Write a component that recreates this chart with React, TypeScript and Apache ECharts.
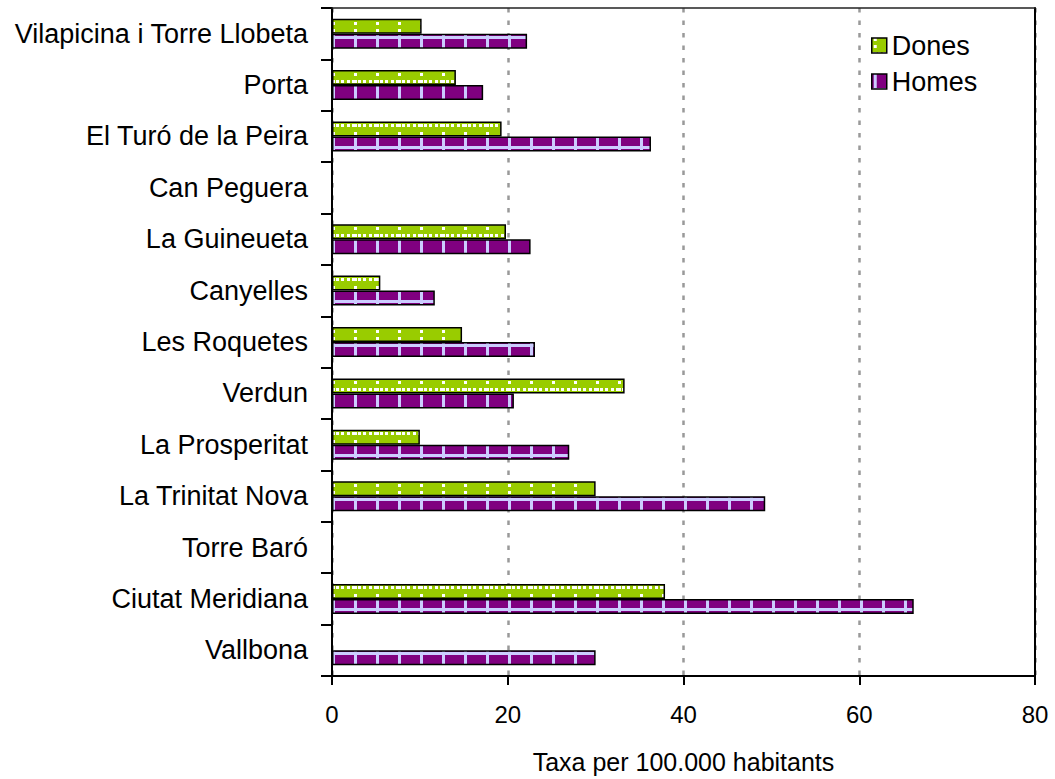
import React, { useEffect, useRef } from "react";
import * as echarts from "echarts";

const categories = [
  "Vilapicina i Torre Llobeta",
  "Porta",
  "El Turó de la Peira",
  "Can Peguera",
  "La Guineueta",
  "Canyelles",
  "Les Roquetes",
  "Verdun",
  "La Prosperitat",
  "La Trinitat Nova",
  "Torre Baró",
  "Ciutat Meridiana",
  "Vallbona",
];

const donesValues: (number | null)[] = [10.2, 14.1, 19.3, null, 19.8, 5.5, 14.8, 33.3, 10.0, 30.0, null, 37.9, null];
const homesValues: (number | null)[] = [22.2, 17.2, 36.3, null, 22.6, 11.7, 23.1, 20.7, 27.0, 49.3, null, 66.2, 30.0];

const xTicks = { min: 0, max: 80, interval: 20 };
const axisName = "Taxa per 100.000 habitants";
const seriesNames = ["Dones", "Homes"];

const FONT = "'Liberation Sans', Arial, sans-serif";

function makeTile(kind: "dones" | "homes"): HTMLCanvasElement {
  const c = document.createElement("canvas");
  c.width = 22;
  c.height = 22;
  const ctx = c.getContext("2d")!;
  if (kind === "homes") {
    ctx.fillStyle = "#800080";
    ctx.fillRect(0, 0, 22, 22);
    ctx.fillStyle = "#CCCCFF";
    ctx.fillRect(2, 0, 3, 22);
    ctx.fillRect(0, 14, 22, 3);
  } else {
    ctx.fillStyle = "#99CC00";
    ctx.fillRect(0, 0, 22, 22);
    ctx.fillStyle = "#FFFFFF";
    [0, 6, 11, 17].forEach((x) => ctx.fillRect(x, 14, 3, 3));
    [0, 7].forEach((y) => ctx.fillRect(2, y, 3, 3));
    ctx.fillRect(2, 14, 3, 3);
  }
  return c;
}

export default function App() {
  const ref = useRef<HTMLDivElement>(null);

  useEffect(() => {
    document.body.style.margin = "0";
    const chart = echarts.init(ref.current!, undefined, { renderer: "svg" });
    const donesPattern: any = { image: makeTile("dones"), repeat: "repeat", imageWidth: 22, imageHeight: 22 };
    const homesPattern: any = { image: makeTile("homes"), repeat: "repeat", imageWidth: 22, imageHeight: 22 };

    chart.setOption({
      animation: false,
      backgroundColor: "#ffffff",
      grid: { left: 332, right: 20, top: 8, bottom: 103, containLabel: false },
      legend: {
        orient: "vertical",
        left: 866,
        top: 27,
        itemWidth: 15,
        itemHeight: 15,
        itemGap: 9,
        icon: "rect",
        data: seriesNames,
        itemStyle: { borderColor: "#000", borderWidth: 1.5 },
        textStyle: { fontFamily: FONT, fontSize: 27, color: "#000" },
      },
      xAxis: [
        {
          type: "value",
          min: xTicks.min,
          max: xTicks.max,
          interval: xTicks.interval,
          name: axisName,
          nameLocation: "middle",
          nameGap: 73,
          nameTextStyle: { fontFamily: FONT, fontSize: 25, color: "#000" },
          axisLine: { show: true, lineStyle: { color: "#000", width: 2 } },
          axisTick: { show: true, length: 9, lineStyle: { color: "#000", width: 2 } },
          axisLabel: { fontFamily: FONT, fontSize: 24, color: "#000", margin: 26 },
          splitLine: { show: true, lineStyle: { color: "#999", width: 2.5, type: [4.5, 8] } },
        },
        {
          type: "value",
          position: "top",
          min: xTicks.min,
          max: xTicks.max,
          z: 5,
          axisLine: { show: true, onZero: false, lineStyle: { color: "#222", width: 1.5 } },
          axisTick: { show: false },
          axisLabel: { show: false },
          splitLine: { show: false },
        },
      ],
      yAxis: [
        {
          type: "category",
          data: categories,
          inverse: true,
          axisLine: { show: true, lineStyle: { color: "#000", width: 2 } },
          axisTick: { show: true, length: 11, lineStyle: { color: "#000", width: 2 } },
          axisLabel: { fontFamily: FONT, fontSize: 27, color: "#000", margin: 24 },
          splitLine: { show: false },
        },
        {
          type: "category",
          data: categories,
          inverse: true,
          position: "right",
          z: 5,
          axisLine: { show: true, onZero: false, lineStyle: { color: "#000", width: 2 } },
          axisTick: { show: false },
          axisLabel: { show: false },
          splitLine: { show: false },
        },
      ],
      series: [
        {
          name: seriesNames[0],
          type: "bar",
          data: donesValues,
          barWidth: 15,
          barGap: "0%",
          itemStyle: { color: donesPattern, borderColor: "#000", borderWidth: 1.5 },
        },
        {
          name: seriesNames[1],
          type: "bar",
          data: homesValues,
          barWidth: 15,
          barGap: "0%",
          itemStyle: { color: homesPattern, borderColor: "#000", borderWidth: 1.5 },
        },
      ],
    });
    return () => chart.dispose();
  }, []);

  return <div ref={ref} style={{ width: 1055, height: 779 }} />;
}
